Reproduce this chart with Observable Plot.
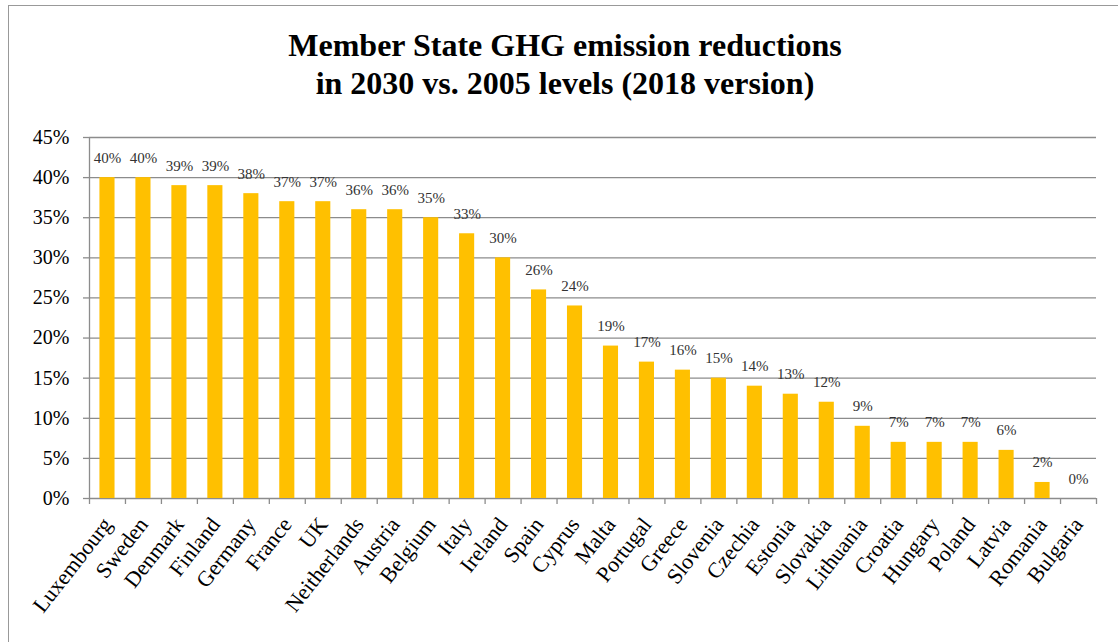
<!DOCTYPE html>
<html>
<head>
<meta charset="utf-8">
<script src="https://cdn.jsdelivr.net/npm/d3@7"></script>
<script src="https://cdn.jsdelivr.net/npm/@observablehq/plot@0.6"></script>
<style>
  html, body { margin: 0; padding: 0; background: #fff; width: 1118px; height: 642px; overflow: hidden; }
  #frame { position: absolute; left: 8px; top: 5px; width: 1200px; height: 700px; border: 1.5px solid #999; box-sizing: border-box; }
  #title { position: absolute; left: 0; top: 26px; width: 1130px; text-align: center;
    font-family: "Liberation Serif", "Times New Roman", serif; font-weight: bold; font-size: 32px; line-height: 38px; color: #000; }
  #chart { position: absolute; left: 0; top: 110px; }
  #chart svg text { font-family: "Liberation Serif", "Times New Roman", serif; }
</style>
</head>
<body>
<div id="frame"></div>
<div id="title">Member State GHG emission reductions<br>in 2030 vs. 2005 levels (2018 version)</div>
<div id="chart"></div>
<script>
const countries = ["Luxembourg","Sweden","Denmark","Finland","Germany","France","UK","Neitherlands","Austria","Belgium","Italy","Ireland","Spain","Cyprus","Malta","Portugal","Greece","Slovenia","Czechia","Estonia","Slovakia","Lithuania","Croatia","Hungary","Poland","Latvia","Romania","Bulgaria"];
const reductions = [40,40,39,39,38,37,37,36,36,35,33,30,26,24,19,17,16,15,14,13,12,9,7,7,7,6,2,0];
const yTicks = [0,5,10,15,20,25,30,35,40,45];

const data = countries.map((c, i) => ({country: c, value: reductions[i]}));

const W = 1118, H = 530, mL = 89, mR = 22, mT = 27, mB = 142;
const step = (W - mL - mR) / countries.length;
const grid = "#8c8c8c";
const serif = "'Liberation Serif', 'Times New Roman', serif";

const chart = Plot.plot({
  width: W, height: H,
  marginLeft: mL, marginRight: mR, marginTop: mT, marginBottom: mB,
  style: {fontFamily: serif, background: "transparent"},
  x: {domain: countries, paddingInner: 0.58, paddingOuter: 0.29, round: false},
  y: {domain: [0, 45]},
  marks: [
    Plot.gridY(yTicks, {stroke: grid, strokeOpacity: 1, strokeWidth: 1.3}),
    Plot.ruleX([0], {x: () => countries[0], dx: -step / 2, y1: 0, y2: 45, stroke: grid, strokeWidth: 1.3}),
    Plot.axisY(yTicks, {tickSize: 6, tickPadding: 14, stroke: grid, strokeWidth: 1.3, tickFormat: d => d + "%", fontSize: 20, fontFamily: serif, fill: "#000", label: null}),
    Plot.barY(data, {x: "country", y: "value", fill: "#FFC000"}),
    Plot.text(data, {x: "country", y: "value", text: d => d.value + "%", lineAnchor: "bottom", dy: -15, fontSize: 15, fontFamily: serif, fill: "#333"}),
    Plot.axisX({tickSize: 6, tickFormat: null, dx: -step / 2, stroke: grid, strokeWidth: 1.3, label: null}),
    Plot.axisX([countries[countries.length - 1]], {tickSize: 6, tickFormat: null, dx: step / 2, stroke: grid, strokeWidth: 1.3, label: null}),
    Plot.axisX({tickSize: 0, tickPadding: 22, dx: 0, tickRotate: -52, fontSize: 22, fontFamily: serif, fill: "#000", label: null})
  ]
});
document.getElementById("chart").appendChild(chart);
</script>
</body>
</html>
